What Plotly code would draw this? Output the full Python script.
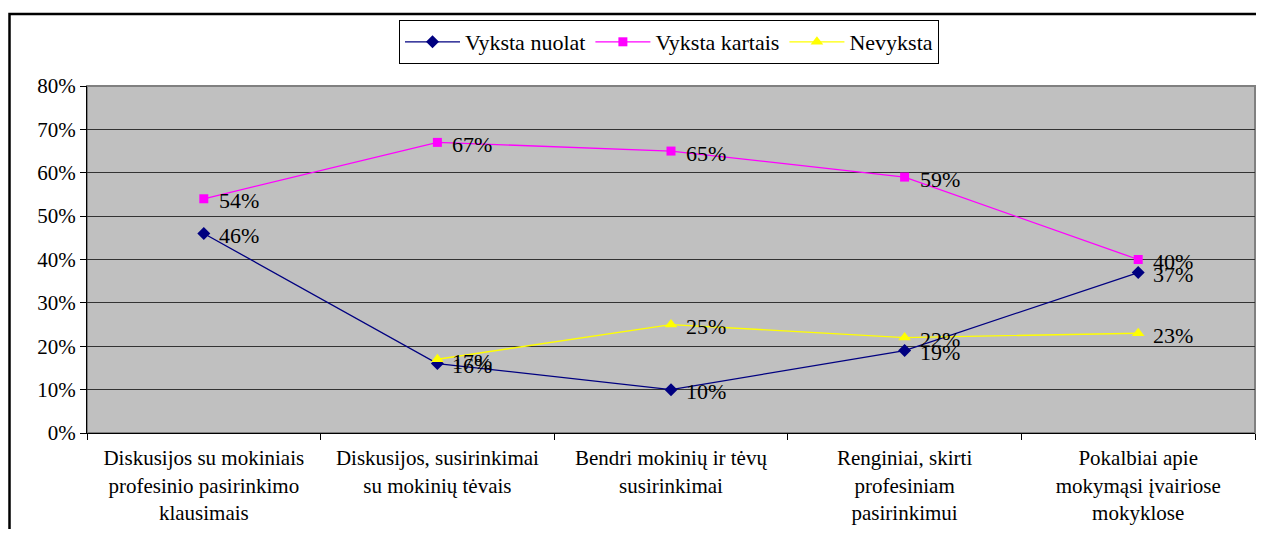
import plotly.graph_objects as go

categories = [
    "Diskusijos su mokiniais<br>profesinio pasirinkimo<br>klausimais",
    "Diskusijos, susirinkimai<br>su mokinių tėvais",
    "Bendri mokinių ir tėvų<br>susirinkimai",
    "Renginiai, skirti<br>profesiniam<br>pasirinkimui",
    "Pokalbiai apie<br>mokymąsi įvairiose<br>mokyklose",
]
nuolat = [46, 16, 10, 19, 37]
kartais = [54, 67, 65, 59, 40]
nevyksta = [None, 17, 25, 22, 23]
y_ticks = [0, 10, 20, 30, 40, 50, 60, 70, 80]
y_tick_text = [f"{v}%" for v in y_ticks]

FONT = "Liberation Serif"

series = [
    ("Vyksta nuolat", nuolat, "#000080", "diamond", 10),
    ("Vyksta kartais", kartais, "#FF00FF", "square", 9),
    ("Nevyksta", nevyksta, "#FFFF00", "triangle-up", 11),
]

fig = go.Figure()
annotations = []
for name, vals, color, sym, size in series:
    fig.add_trace(go.Scatter(
        x=categories, y=vals, name=name, mode="lines+markers",
        line=dict(color=color, width=1.3),
        marker=dict(symbol=sym, size=size, color=color),
        connectgaps=False,
    ))
    for c, v in zip(categories, vals):
        if v is None:
            continue
        annotations.append(dict(
            x=c, y=v, xref="x", yref="y", text=f"{v}%", showarrow=False,
            xanchor="left", yanchor="middle", xshift=13, yshift=-2,
            font=dict(family=FONT, size=22, color="black"),
        ))

# page has an 8px body margin
OFF = 8
W, H = 1264 - 2 * OFF, 537 - 2 * OFF
L, R, T, B = 87 - OFF, W - (1255 - OFF), 86 - OFF, H - (433 - OFF)
pw, ph = W - L - R, H - T - B

shapes = [dict(
    type="rect", xref="paper", yref="paper",
    x0=(1.5 - L) / pw, x1=1.2, y0=-0.6, y1=1 + (86 - 14) / ph,
    line=dict(color="black", width=2.5), fillcolor="rgba(0,0,0,0)", layer="below",
)]

fig.update_layout(
    width=W, height=H,
    margin=dict(l=L, r=R, t=T, b=B),
    paper_bgcolor="white",
    plot_bgcolor="#C0C0C0",
    font=dict(family=FONT, size=21, color="black"),
    showlegend=True,
    legend=dict(
        orientation="h", x=(669 - 87) / pw, xanchor="center",
        y=1 + (86 - 20) / ph, yanchor="top",
        bordercolor="black", borderwidth=1, bgcolor="white",
        font=dict(family=FONT, size=22, color="black"),
        itemwidth=55, tracegroupgap=0,
    ),
    annotations=annotations,
    shapes=shapes,
)
fig.update_xaxes(
    type="category", range=[-0.5, 4.5], tickson="boundaries", ticks="outside", ticklen=6,
    tickcolor="black", showline=True, linecolor="black", linewidth=1,
    showgrid=False, mirror=False, ticklabelstandoff=6,
    tickfont=dict(family=FONT, size=21, color="black"),
)
fig.update_yaxes(
    range=[0, 80], tickmode="array", tickvals=y_ticks, ticktext=y_tick_text,
    ticks="outside", ticklen=6,
    tickcolor="black", showline=True, linecolor="black", linewidth=1,
    showgrid=True, gridcolor="#333333", gridwidth=1, zeroline=False,
    tickfont=dict(family=FONT, size=21, color="black"),
)
fig.add_shape(type="rect", xref="paper", yref="paper", x0=0, x1=1, y0=0, y1=1,
              line=dict(color="#808080", width=2), layer="below")

fig.write_html("out.html")
